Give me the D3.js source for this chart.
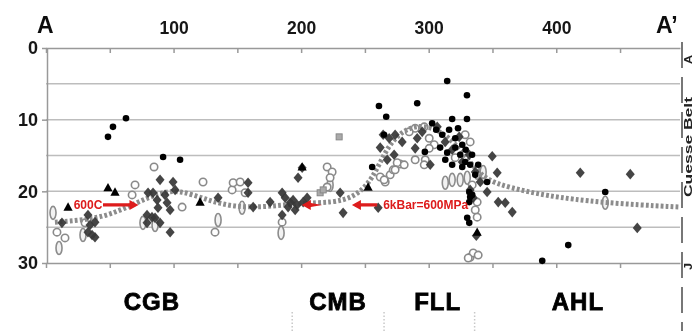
<!DOCTYPE html>
<html>
<head>
<meta charset="utf-8">
<script src="https://cdn.jsdelivr.net/npm/d3@7"></script>
<style>
  body { margin: 0; background: #fff; }
  svg { display: block; font-family: "Liberation Sans", Arial, sans-serif; }
  .axis path, .axis line { stroke: #999; stroke-width: 1.5; }
  .axis text { font-weight: bold; fill: #151515; }
</style>
</head>
<body>
<div class="chart"></div>
<script>
// distance along section (km), depth (km)
var blackDots = [
  [48.6,12.4],[52.5,11.0],[62.7,9.8],[91.8,15.2],[105.1,15.6],
  [261,8.1],[266.7,9.6],[291,7.7],[314.5,4.6],[330,6.6],[318.4,9.9],[330,9.9],
  [265,12.1],[255.7,16.6],[302.7,10.5],[297,14.5],[310.6,12.1],[316,11.4],
  [320.8,12.6],[326.3,13.5],[324.7,14.9],[328.6,15.9],[332.5,16.3],[326.3,16.6],
  [336.5,17.7],[331.8,20.1],[334.1,20.5],[331.8,21.5],[330.2,23.7],[331.8,24.4],
  [309,13.9],[314.5,14.6],[318.4,16.3],[332.5,20.8],[345.8,18.7],[305.9,11.4],
  [323,11.2],[313,15.6],[320.8,13.9],[329,14.2],[334,14.9],[338.8,16.3],
  [438.4,20.1],[409.4,27.5],[389,29.7]
];
var openDots = [
  [8.6,25.7],[14.9,26.5],[30.6,24.4],[69.8,19.1],[67.5,20.5],[84.7,16.6],
  [106.7,22.2],[123.1,18.7],[132.5,25.7],[145.9,19.8],[146.7,18.8],[152.2,18.7],
  [156.1,20.2],[185.1,24.3],[220.4,16.6],[224.3,17.3],[220.4,19.4],[222.7,18.1],
  [262,18.0],[265.9,18.7],[269.8,17.7],[277.6,16.2],[289.4,15.6],[272.2,17.0],
  [289.4,11.2],[296.5,11.0],[284.7,11.7],[300.4,12.6],[304.3,13.5],[300.4,14.0],
  [297.3,15.6],[296.5,16.3],[275.3,16.0],[280.8,16.3],[273.7,17.0],[265.1,18.4],
  [328.6,12.1],[332.5,13.1],[320.8,15.3],[334.1,19.1],[338,21.5],[336.5,22.6],
  [338,23.6],[332.5,29.2],[334.9,28.6],[338.8,28.9],[331,29.3]
];
var ovals = [
  [5.5,23.0],[10.2,27.9],[29,26.1],[76,24.4],[85.5,24.7],[134.9,24.0],
  [184.3,25.8],[153.7,22.3],[222.7,19.1],[313,18.8],[318.4,18.4],[324.7,18.4],
  [330.2,18.1],[342.7,17.3],[338,17.4],[438.4,21.6]
];
var triangles = [
  [17.3,22.2],[48.6,19.5],[54.1,20.1],[120.8,21.5],[200.8,16.6],[252.5,19.4],[338,25.7]
];
var squares = [[229.8,12.4],[214.9,20.2],[217.3,19.8]];
var diamonds = [
  [12.5,24.4],[32.9,23.3],[34.5,24.7],[32.9,25.7],[36.1,26.1],[38.4,26.4],[38.4,24.3],
  [79.2,23.3],[83.1,23.6],[89.4,18.4],[83.9,20.2],[87.1,21.2],[93.3,20.5],[99.6,18.7],
  [101.2,19.8],[94.9,21.6],[97.3,22.6],[89.4,24.4],[97.3,25.7],[85.5,23.7],[79.2,24.4],
  [80,20.2],[87.8,22.3],[134.9,20.9],[158.4,18.8],[158.4,20.2],[162.4,22.2],[175.7,21.5],
  [185.1,20.2],[187.5,20.9],[193.7,21.2],[189.8,22.2],[185.1,23.3],[196.9,21.9],
  [200.8,16.7],[197.6,18.1],[204.7,20.9],[201.6,21.5],[191.4,21.6],[195.3,22.6],
  [232.9,23.0],[230.6,20.2],[260.4,22.3],
  [262,13.9],[269,12.6],[273.7,12.1],[272.9,14.9],[267.5,15.6],[279.2,13.1],[291,12.6],
  [289.4,14.0],[294.9,11.7],[301.2,16.3],[306.7,11.0],[312.9,13.1],[318.4,14.2],
  [323.9,12.4],[326.3,15.9],[331.8,14.9],[336.5,17.3],[340.4,18.7],[264.3,12.1],
  [349.8,15.1],[353.7,17.4],[418.8,17.4],[458,17.6],[354.5,21.5],[360,21.6],
  [365.5,22.9],[463.5,25.1],[337.3,26.2],[345.8,20.1],[332.5,19.8],[334.9,20.9]
];
// trend curve of the brittle-ductile transition
var trend = [
  [7,24.3],[30.6,24.0],[50,23.3],[71,21.6],[89,20.2],[105,19.8],[126,21.2],
  [147,22.2],[173,22.2],[199,21.6],[225,21.6],[242,20.8],[256,18.4],[268,13.5],
  [282,11.2],[297,10.7],[315,12.1],[331,15.6],[344,18.4],[364,19.5],[391,20.6],
  [435,21.6],[497,22.2]
];
var xTicks = [0, 50, 100, 150, 200, 250, 300, 350, 400, 450];
var yTicks = [0, 10, 20, 30];
var gridDepths = [5, 10, 15, 20, 25];
var regions = ["CGB", "CMB", "FLL", "AHL"];
var regionX = [83, 229, 307, 417];
var dividers = [193, 265, 336];

var width = 692, height = 331;
var x = d3.scaleLinear().domain([0, 497]).range([46, 680]);
var y = d3.scaleLinear().domain([0, 30]).range([48, 263]);

var svg = d3.select(".chart").append("svg")
  .attr("width", width).attr("height", height);

svg.append("defs").append("filter").attr("id", "soft")
  .append("feGaussianBlur").attr("stdDeviation", 0.45);

var g = svg.append("g").attr("filter", "url(#soft)");

// grid
g.selectAll(".grid").data(gridDepths).enter().append("line")
  .attr("x1", x(0)).attr("x2", x(497))
  .attr("y1", d => y(d)).attr("y2", d => y(d))
  .attr("stroke", "#bdbdbd").attr("stroke-width", 1.5);

// axes
g.append("g").attr("class", "axis")
  .attr("transform", "translate(0," + y(0) + ")")
  .call(d3.axisTop(x).tickValues(xTicks).tickSizeInner(-5).tickSizeOuter(0).tickPadding(14)
    .tickFormat(d => (d % 100 === 0 && d > 0) ? d : ""))
  .selectAll("text").style("font-size", "17.5px");

g.append("g").attr("class", "axis")
  .attr("transform", "translate(0," + y(30) + ")")
  .call(d3.axisBottom(x).tickValues(xTicks).tickSizeInner(5).tickSizeOuter(0).tickFormat(""));

g.append("g").attr("class", "axis")
  .attr("transform", "translate(" + (x(0) + 1) + ",0)")
  .call(d3.axisLeft(y).tickValues(yTicks).tickSizeInner(5).tickSizeOuter(0).tickPadding(4))
  .selectAll("text").style("font-size", "18px");

g.selectAll(".axis .domain").attr("stroke", "#999");

// section end labels
g.append("text").attr("x", 37).attr("y", 33).text("A")
  .style("font-size", "23px").style("font-weight", "bold").attr("fill", "#111");
g.append("text").attr("x", 656).attr("y", 33).text("A\u2019")
  .style("font-size", "23px").style("font-weight", "bold").attr("fill", "#111");

// right-hand dashed boundary and edge label
g.append("line").attr("x1", 682).attr("x2", 682).attr("y1", 42).attr("y2", height)
  .attr("stroke", "#777").attr("stroke-width", 2).attr("stroke-dasharray", "26,9");
function edgeText(txt, yy, len) {
  g.append("text").attr("transform", "translate(691.5," + yy + ") rotate(-90)")
    .attr("textLength", len).attr("lengthAdjust", "spacingAndGlyphs")
    .text(txt).style("font-size", "10.5px").style("font-weight", "bold").attr("fill", "#222");
}
edgeText("Cuesse Belt", 197, 100);
edgeText("A", 64, 9);
edgeText("J", 270, 7);

// faint dividers below the plot
g.selectAll(".div").data(dividers).enter().append("line")
  .attr("x1", d => x(d)).attr("x2", d => x(d))
  .attr("y1", 312).attr("y2", height)
  .attr("stroke", "#c8c8c8").attr("stroke-width", 1.5).attr("stroke-dasharray", "1.5,2");

// points
g.selectAll(".oval").data(ovals).enter().append("ellipse")
  .attr("cx", d => x(d[0])).attr("cy", d => y(d[1]))
  .attr("rx", 3).attr("ry", 6.5)
  .attr("fill", "#f2f2f2").attr("stroke", "#8c8c8c").attr("stroke-width", 1.6);

g.selectAll(".open").data(openDots).enter().append("circle")
  .attr("cx", d => x(d[0])).attr("cy", d => y(d[1])).attr("r", 3.7)
  .attr("fill", "#fff").attr("stroke", "#8a8a8a").attr("stroke-width", 1.6);

g.append("path").datum(trend)
  .attr("d", d3.line().x(d => x(d[0])).y(d => y(d[1])).curve(d3.curveBasis))
  .attr("fill", "none").attr("stroke", "#8c8c8c").attr("stroke-width", 5)
  .attr("stroke-dasharray", "2.8,2.2");

var diamondPath = "M0,-5.3L4.5,0L0,5.3L-4.5,0Z";
g.selectAll(".dia").data(diamonds).enter().append("path")
  .attr("d", diamondPath)
  .attr("transform", d => "translate(" + x(d[0]) + "," + y(d[1]) + ")")
  .attr("fill", "#383838").attr("fill-opacity", 0.93);

g.selectAll(".sq").data(squares).enter().append("rect")
  .attr("x", d => x(d[0]) - 3).attr("y", d => y(d[1]) - 3)
  .attr("width", 6).attr("height", 6)
  .attr("fill", "#aaa").attr("stroke", "#888").attr("stroke-width", 1);

g.selectAll(".tri").data(triangles).enter().append("path")
  .attr("d", "M0,-4.8L4.6,3.6L-4.6,3.6Z")
  .attr("transform", d => "translate(" + x(d[0]) + "," + y(d[1]) + ")")
  .attr("fill", "#000");

g.selectAll(".blk").data(blackDots).enter().append("circle")
  .attr("cx", d => x(d[0])).attr("cy", d => y(d[1])).attr("r", 3.3)
  .attr("fill", "#050505");

// red annotations
var red = "#dd1a1a";
function arrow(x0, x1, yy) {
  var dir = x1 > x0 ? 1 : -1;
  var hx = x1 - dir * 9;
  g.append("path")
    .attr("d", "M" + x0 + "," + (yy - 1.6) + "L" + hx + "," + (yy - 1.6) + "L" + hx + "," + (yy - 5) +
      "L" + x1 + "," + yy + "L" + hx + "," + (yy + 5) + "L" + hx + "," + (yy + 1.6) + "L" + x0 + "," + (yy + 1.6) + "Z")
    .attr("fill", red);
}
var ay = y(21.9);
arrow(x(44.7), x(72.5), ay);
arrow(x(259.6), x(239.8), ay);
// short double-headed arrow
var dx0 = x(200.5), dx1 = x(216.5);
g.append("path")
  .attr("d", "M" + dx0 + "," + ay + "L" + (dx0 + 9) + "," + (ay - 5) + "L" + (dx0 + 9) + "," + (ay - 2) +
    "L" + dx1 + "," + ay + "L" + (dx0 + 9) + "," + (ay + 2) + "L" + (dx0 + 9) + "," + (ay + 5) + "Z")
  .attr("fill", red);

g.append("text").attr("x", x(44.2)).attr("y", ay + 4.5).attr("text-anchor", "end")
  .text("600C").style("font-size", "12px").style("font-weight", "bold").attr("fill", red);
g.append("text").attr("x", x(264.3)).attr("y", ay + 4.5)
  .text("6kBar=600MPa").style("font-size", "12px").style("font-weight", "bold").attr("fill", red);

// region names
g.selectAll(".reg").data(regions).enter().append("text")
  .attr("x", (d, i) => x(regionX[i])).attr("y", 310)
  .attr("text-anchor", "middle")
  .text(d => d)
  .style("font-size", "24px").style("font-weight", "bold").style("letter-spacing", "1px")
  .attr("fill", "#000").attr("stroke", "#000").attr("stroke-width", 0.8);
</script>
</body>
</html>
